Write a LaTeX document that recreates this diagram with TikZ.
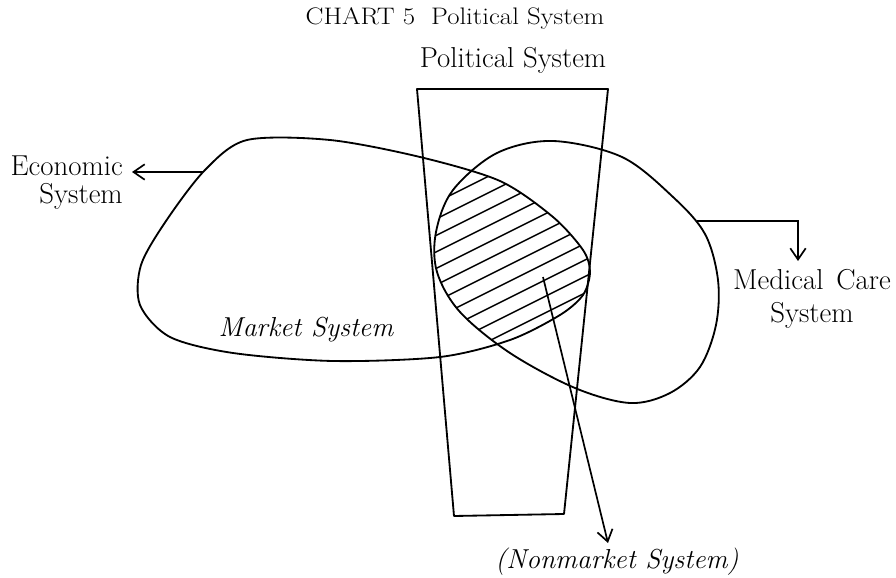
\documentclass[tikz,border=0pt]{standalone}
\usetikzlibrary{arrows.meta}
\newcommand\EconPath{plot[smooth cycle, tension=0.5] coordinates {(247,140) (330,140) (420,157) (500,181) (553,217) (583,250) (590,272) (583,295) (560,315) (510,340) (440,357) (333,361) (233,353) (170,337) (140,305) (141,265) (166,221) (205,170)}}
\newcommand\MedPath{plot[smooth cycle, tension=0.55] coordinates {(553,141) (622,157) (673,197) (705,234) (718,280) (716,325) (700,367) (670,393) (630,403) (575,388) (510,353) (460,312) (437,272) (436,232) (453,190) (497,153)}}
\newcommand\PolPath{(417,89) -- (608,89) -- (564,514) -- (454,516) -- cycle}
\begin{document}
\begin{tikzpicture}[x=0.025cm,y=-0.025cm,
  outline/.style={line width=1.3pt, line join=round},
  conn/.style={line width=1.2pt, -{Straight Barb[length=8pt,width=11pt,line width=1.2pt]}},
  lbl/.style={inner sep=0pt, font=\fontsize{20.5}{24}\selectfont},
  hatchline/.style={line width=1.1pt}]
\useasboundingbox (0,0) rectangle (896,578);
% hatching of the nonmarket area
\begin{scope}
  \clip \EconPath;
  \clip \MedPath;
  \clip \PolPath;
  \foreach \c in {172.5,189,...,400} {
    \draw[hatchline] (420,\c+5) -- (600,\c-85);
  }
\end{scope}
% outlines
\draw[outline] \PolPath;
\draw[outline] \EconPath;
\draw[outline] \MedPath;
% texts
\node[inner sep=0pt, font=\fontsize{17}{19}\selectfont] (title) at (455,18) {\scalebox{1.12}[1]{CHART 5\hspace{0.6em}Political System}};
\node[lbl] (pol) at (513,60) {Political System};
\node[lbl, align=right, anchor=east, font=\fontsize{20.5}{20}\selectfont] (econ) at (123,183) {Economic\\System};
\node[lbl, align=center, font=\fontsize{20.5}{23}\selectfont] (med) at (812,299) {Medical\hspace{0.45em}Care\\System};
\node[lbl, font=\fontsize{19.5}{22}\itshape] (market) at (306,330) {Market System};
\node[lbl, font=\fontsize{19.5}{22}\itshape] (nonmarket) at (617,562) {(Nonmarket System)};
% connectors
\coordinate (econA) at (203,172);
\coordinate (econT) at (132,172);
\draw[conn] (econA) -- (econT);
\coordinate (medA) at (697,221);
\coordinate (medB) at (798,221);
\coordinate (medT) at (798,261);
\draw[conn] (medA) -- (medB) -- (medT);
\coordinate (nonA) at (543,277);
\coordinate (nonT) at (608,543);
\draw[conn] (nonA) -- (nonT);
\end{tikzpicture}
\end{document}
